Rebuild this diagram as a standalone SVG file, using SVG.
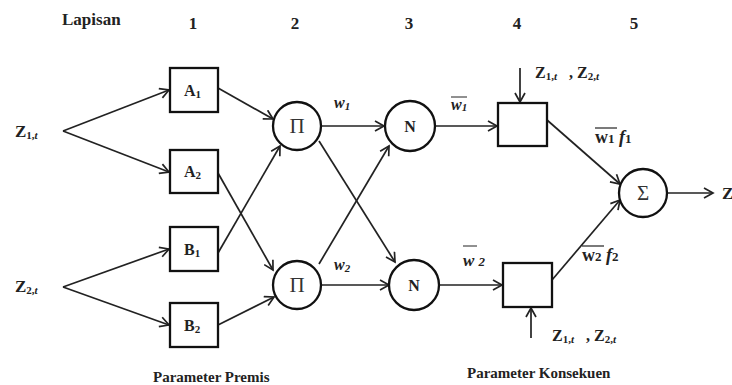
<svg xmlns="http://www.w3.org/2000/svg" width="732" height="385" viewBox="0 0 732 385">
<defs>
<marker id="ah" markerWidth="12" markerHeight="12" refX="10" refY="6" orient="auto" markerUnits="userSpaceOnUse">
<path d="M1,1 L10,6 L1,11" fill="none" stroke="#222" stroke-width="1.7"/>
</marker>
<style>
.t{font-family:"Liberation Serif","Times New Roman",serif;font-weight:bold;fill:#222}
.h{font-size:17px}
.box{fill:#fff;stroke:#111;stroke-width:2.3}
.cir{fill:#fff;stroke:#111;stroke-width:2.3}
.c{stroke:#222;stroke-width:1.7;fill:none}
.a{marker-end:url(#ah)}
.op{font-family:"Liberation Serif","DejaVu Serif",serif;font-size:21px;fill:#333}
.sub{font-size:11px}
.i{font-style:italic}
</style>
</defs>
<rect width="732" height="385" fill="#fff"/>

<g id="headers">
<text class="t h" x="62" y="25">Lapisan</text>
<text class="t h" x="193" y="29" text-anchor="middle">1</text>
<text class="t h" x="295" y="29" text-anchor="middle">2</text>
<text class="t h" x="409" y="29" text-anchor="middle">3</text>
<text class="t h" x="517" y="29" text-anchor="middle">4</text>
<text class="t h" x="634" y="29" text-anchor="middle">5</text>
</g>

<g id="connectors">
<line class="c a" x1="63" y1="131" x2="169" y2="90"/>
<line class="c a" x1="63" y1="131" x2="169" y2="172"/>
<line class="c a" x1="63" y1="287" x2="169" y2="249"/>
<line class="c a" x1="63" y1="287" x2="169" y2="325"/>
<line class="c a" x1="218" y1="88" x2="273" y2="119"/>
<line class="c a" x1="218" y1="173" x2="273" y2="270"/>
<line class="c a" x1="218" y1="253" x2="280" y2="146"/>
<line class="c a" x1="218" y1="325" x2="274" y2="297"/>
<line class="c a" x1="322" y1="126" x2="384" y2="126"/>
<line class="c a" x1="319" y1="141" x2="395" y2="262"/>
<line class="c a" x1="319" y1="264" x2="389" y2="146"/>
<line class="c a" x1="322" y1="285" x2="389" y2="285"/>
<line class="c a" x1="435" y1="126" x2="497" y2="126"/>
<line class="c a" x1="438" y1="285" x2="502" y2="285"/>
<line class="c a" x1="547" y1="120" x2="620" y2="184"/>
<line class="c a" x1="552" y1="280" x2="620" y2="200"/>
<line class="c a" x1="667" y1="193" x2="713" y2="193"/>
<line class="c a" x1="520" y1="68" x2="520" y2="102"/>
<line class="c a" x1="531" y1="338" x2="531" y2="308"/>
</g>

<g id="z1">
<text class="t" x="15" y="137" font-size="17">Z<tspan class="sub" dy="2">1,<tspan class="i">t</tspan></tspan></text>
</g>
<g id="z2">
<text class="t" x="15" y="292" font-size="17">Z<tspan class="sub" dy="2">2,<tspan class="i">t</tspan></tspan></text>
</g>

<g id="A1"><rect class="box" x="170" y="68" width="48" height="44"/>
<text class="t" x="184" y="96" font-size="16">A<tspan class="sub" dy="2">1</tspan></text></g>
<g id="A2"><rect class="box" x="170" y="150" width="48" height="43"/>
<text class="t" x="184" y="177" font-size="16">A<tspan class="sub" dy="2">2</tspan></text></g>
<g id="B1"><rect class="box" x="170" y="227" width="48" height="44"/>
<text class="t" x="184" y="255" font-size="16">B<tspan class="sub" dy="2">1</tspan></text></g>
<g id="B2"><rect class="box" x="170" y="303" width="48" height="44"/>
<text class="t" x="184" y="331" font-size="16">B<tspan class="sub" dy="2">2</tspan></text></g>

<g id="P1"><circle class="cir" cx="297" cy="126" r="24"/>
<text class="op" x="297" y="133" text-anchor="middle">Π</text></g>
<g id="P2"><circle class="cir" cx="297" cy="285" r="24"/>
<text class="op" x="297" y="292" text-anchor="middle">Π</text></g>

<g id="N1"><circle class="cir" cx="410" cy="126" r="25"/>
<text class="t" x="410" y="132" font-size="16" text-anchor="middle">N</text></g>
<g id="N2"><circle class="cir" cx="414" cy="285" r="25"/>
<text class="t" x="414" y="291" font-size="16" text-anchor="middle">N</text></g>

<g id="R1"><rect class="box" x="498" y="103" width="49" height="43"/></g>
<g id="R2"><rect class="box" x="503" y="263" width="49" height="44"/></g>

<g id="S"><circle class="cir" cx="643" cy="193" r="24"/>
<text class="op" x="643" y="200" text-anchor="middle">Σ</text></g>

<g id="labels">
<text class="t i" x="334" y="108" font-size="16">w<tspan class="sub" dy="2">1</tspan></text>
<text class="t i" x="334" y="270" font-size="16">w<tspan class="sub" dy="2">2</tspan></text>
<text class="t i" x="451" y="110" font-size="16">w<tspan class="sub" dy="1">1</tspan></text>
<line x1="451" y1="97" x2="467" y2="97" stroke="#222" stroke-width="1"/>
<text class="t i" x="463" y="266" font-size="17">w <tspan font-size="13">2</tspan></text>
<line x1="463" y1="246" x2="477" y2="246" stroke="#222" stroke-width="1"/>
<text class="t" x="595" y="143" font-size="18">w<tspan font-size="13">1</tspan> <tspan class="i">f</tspan><tspan font-size="13">1</tspan></text>
<line x1="595" y1="128" x2="617" y2="128" stroke="#222" stroke-width="1.2"/>
<text class="t" x="582" y="261" font-size="18">w<tspan font-size="13">2</tspan> <tspan class="i">f</tspan><tspan font-size="13">2</tspan></text>
<line x1="582" y1="246" x2="604" y2="246" stroke="#222" stroke-width="1.2"/>
<text class="t" x="535" y="78" font-size="16">Z<tspan class="sub" dy="2">1,<tspan class="i">t</tspan></tspan><tspan dy="-2" xml:space="preserve">   , Z</tspan><tspan class="sub" dy="2">2,<tspan class="i">t</tspan></tspan></text>
<text class="t" x="552" y="341" font-size="16">Z<tspan class="sub" dy="2">1,<tspan class="i">t</tspan></tspan><tspan dy="-2" xml:space="preserve">   , Z</tspan><tspan class="sub" dy="2">2,<tspan class="i">t</tspan></tspan></text>
<text class="t" x="722" y="199" font-size="17">Z</text>
<text class="t" x="153" y="382" font-size="15">Parameter Premis</text>
<text class="t" x="467" y="378" font-size="15">Parameter Konsekuen</text>
</g>
</svg>
